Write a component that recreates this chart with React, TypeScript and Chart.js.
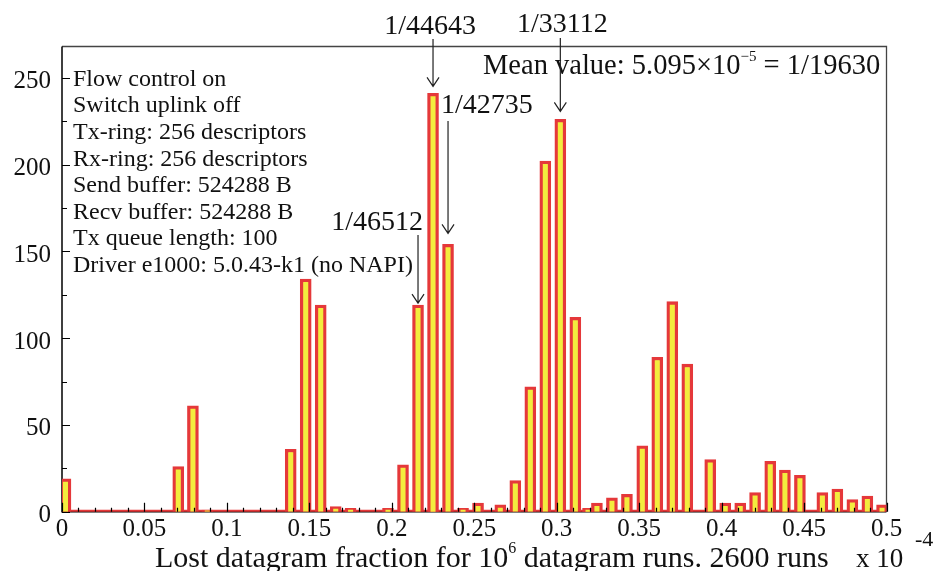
import React, { useEffect, useRef } from 'react';
import { Chart, registerables } from 'chart.js';

Chart.register(...registerables);

// Histogram bar positions (x, in units of 10^-4) and counts
const binCenters = [
  0.0021, 0.0705, 0.0794, 0.0881, 0.1387, 0.1478, 0.1569, 0.166, 0.175, 0.1977,
  0.2068, 0.2159, 0.225, 0.2341, 0.2432, 0.2523, 0.2658, 0.2749, 0.284, 0.2931,
  0.3022, 0.3113, 0.319, 0.3244, 0.3335, 0.3426, 0.3519, 0.361, 0.3701, 0.3792,
  0.3931, 0.4022, 0.4113, 0.4203, 0.4295, 0.4384, 0.4475, 0.4611, 0.4702, 0.4793,
  0.4884, 0.4973,
];
const counts = [
  19, 26, 61, 1, 36, 134, 119, 3, 2, 2,
  27, 119, 241, 154, 2, 5, 4, 18, 72, 202,
  226, 112, 2, 5, 8, 10, 38, 89, 121, 85,
  30, 5, 5, 11, 29, 24, 21, 11, 13, 7,
  9, 4,
];

const xTickValues = [0, 0.05, 0.1, 0.15, 0.2, 0.25, 0.3, 0.35, 0.4, 0.45, 0.5];
const xTickLabels = ['0', '0.05', '0.1', '0.15', '0.2', '0.25', '0.3', '0.35', '0.4', '0.45', '0.5'];
const yTickValues = [0, 50, 100, 150, 200, 250];
const yTickLabels = ['0', '50', '100', '150', '200', '250'];

const infoLines = [
  'Flow control on',
  'Switch uplink off',
  'Tx-ring: 256 descriptors',
  'Rx-ring: 256 descriptors',
  'Send buffer: 524288 B',
  'Recv buffer: 524288 B',
  'Tx queue length: 100',
  'Driver e1000: 5.0.43-k1 (no NAPI)',
];

const arrowLabels = ['1/44643', '1/42735', '1/46512', '1/33112'];
const arrowTargets = [0.225, 0.2341, 0.2159, 0.3022];

const FONT = '"Liberation Serif", "Times New Roman", serif';
const RED = '#e5383a';
const YELLOW = '#f3ec3e';

type Part = { t: string; size: number; dy: number };

function drawRich(ctx: CanvasRenderingContext2D, parts: Part[], x: number, y: number) {
  let cx = x;
  for (const p of parts) {
    ctx.font = `${p.size}px ${FONT}`;
    ctx.fillText(p.t, cx, y + p.dy);
    cx += ctx.measureText(p.t).width;
  }
}

const decorPlugin = {
  id: 'decor',
  beforeDatasetsDraw(chart: any) {
    const { ctx, chartArea: a } = chart;
    ctx.save();
    ctx.strokeStyle = '#444';
    ctx.lineWidth = 1.3;
    ctx.beginPath();
    ctx.moveTo(a.left, a.top);
    ctx.lineTo(a.right, a.top);
    ctx.lineTo(a.right, a.bottom);
    ctx.stroke();
    ctx.strokeStyle = '#000';
    ctx.lineWidth = 1.5;
    ctx.beginPath();
    ctx.moveTo(a.left, a.top);
    ctx.lineTo(a.left, a.bottom);
    ctx.lineTo(a.right, a.bottom);
    ctx.stroke();
    ctx.restore();
  },
  afterDatasetsDraw(chart: any) {
    const { ctx, chartArea: a, scales } = chart;
    const xs = scales.x;
    const ys = scales.y;
    ctx.save();
    ctx.strokeStyle = '#000';
    ctx.lineWidth = 1.2;
    ctx.beginPath();
    for (let k = 0; k <= 50; k++) {
      const px = Math.round(xs.getPixelForValue(k / 100)) + 0.5;
      const len = k % 5 === 0 ? 9 : 4;
      ctx.moveTo(px, a.bottom);
      ctx.lineTo(px, a.bottom - len);
    }
    for (let k = 0; k <= 10; k++) {
      const py = Math.round(ys.getPixelForValue(k * 25)) + 0.5;
      const len = k % 2 === 0 ? 8 : 5;
      ctx.moveTo(a.left, py);
      ctx.lineTo(a.left + len, py);
    }
    ctx.stroke();
    ctx.restore();
  },
  afterDraw(chart: any) {
    const { ctx, scales } = chart;
    const xs = scales.x;
    const ys = scales.y;
    ctx.save();
    ctx.fillStyle = '#111';
    ctx.textBaseline = 'alphabetic';

    ctx.font = `24px ${FONT}`;
    ctx.textAlign = 'left';
    infoLines.forEach((l, i) => ctx.fillText(l, 73, 85.7 + 26.6 * i));

    drawRich(ctx, [
      { t: 'Mean value: 5.095\u00d710', size: 28.5, dy: 0 },
      { t: '\u22125', size: 15, dy: -13 },
      { t: ' = 1/19630', size: 28.5, dy: 0 },
    ], 483, 74);

    const placement = [
      { align: 'center', dx: -3, base: 34, start: 39, gap: 7 },
      { align: 'left', dx: -7, base: 113, start: 121, gap: 11 },
      { align: 'right', dx: 5, base: 230, start: 235, gap: 2 },
      { align: 'center', dx: 2, base: 32, start: 38, gap: 8 },
    ];
    arrowLabels.forEach((lab, i) => {
      const xv = arrowTargets[i];
      const idx = binCenters.indexOf(xv);
      const px = xs.getPixelForValue(xv);
      const top = ys.getPixelForValue(counts[idx]);
      const p = placement[i];
      ctx.font = `28px ${FONT}`;
      ctx.textAlign = p.align as CanvasTextAlign;
      ctx.fillStyle = '#111';
      ctx.fillText(lab, px + p.dx, p.base);
      const tip = top - p.gap;
      ctx.strokeStyle = '#222';
      ctx.lineWidth = 1.2;
      ctx.beginPath();
      ctx.moveTo(px, p.start);
      ctx.lineTo(px, tip);
      ctx.moveTo(px - 6, tip - 9);
      ctx.lineTo(px, tip);
      ctx.lineTo(px + 6, tip - 9);
      ctx.stroke();
    });

    ctx.textAlign = 'left';
    ctx.fillStyle = '#111';
    drawRich(ctx, [
      { t: 'Lost datagram fraction for 10', size: 30, dy: 0 },
      { t: '6', size: 16, dy: -14 },
      { t: ' datagram runs. 2600 runs', size: 30, dy: 0 },
    ], 155, 567);

    ctx.font = `27px ${FONT}`;
    ctx.fillText('x 10', 856, 567);
    ctx.font = `22px ${FONT}`;
    ctx.fillText('-4', 915, 546);

    ctx.restore();
  },
};

export default function App() {
  const ref = useRef<HTMLCanvasElement>(null);

  useEffect(() => {
    document.body.style.margin = '0';
    const canvas = ref.current!;
    const barData = binCenters.map((x, i) => ({ x, y: counts[i] }));
    const chart = new Chart(canvas, {
      type: 'bar',
      data: {
        datasets: [
          {
            type: 'bar',
            data: barData as any,
            backgroundColor: YELLOW,
            borderColor: RED,
            borderWidth: 3.3,
            borderSkipped: 'start',
            barThickness: 11,
            grouped: false,
            order: 1,
          } as any,
          {
            type: 'line',
            data: [{ x: 0, y: 0 }, { x: 0.5, y: 0 }] as any,
            borderColor: RED,
            borderWidth: 4,
            pointRadius: 0,
            order: 2,
          } as any,
        ],
      },
      options: {
        animation: false,
        responsive: false,
        devicePixelRatio: 1,
        layout: { padding: { left: 0, right: 47.5, top: 46.5, bottom: 0 } },
        plugins: { legend: { display: false }, tooltip: { enabled: false } },
        scales: {
          x: {
            type: 'linear',
            min: 0,
            max: 0.5,
            offset: false,
            grid: { display: false, drawTicks: false, offset: false },
            border: { display: false },
            ticks: {
              stepSize: 0.05,
              includeBounds: false,
              autoSkip: false,
              maxRotation: 0,
              padding: 3,
              color: '#111',
              font: { family: FONT, size: 25 },
              callback: (v: any) => {
                const i = xTickValues.findIndex((t) => Math.abs(t - Number(v)) < 1e-6);
                return i >= 0 ? xTickLabels[i] : '';
              },
            },
            afterFit: (s: any) => { s.height = 59.3; },
          },
          y: {
            type: 'linear',
            min: 0,
            max: 268,
            grid: { display: false, drawTicks: false },
            border: { display: false },
            ticks: {
              stepSize: 50,
              includeBounds: false,
              padding: 11,
              labelOffset: 4,
              color: '#111',
              font: { family: FONT, size: 25 },
              callback: (v: any) => {
                const i = yTickValues.indexOf(Number(v));
                return i >= 0 ? yTickLabels[i] : '';
              },
            },
            afterFit: (s: any) => { s.width = 62; },
          },
        },
      } as any,
      plugins: [decorPlugin],
    });
    return () => chart.destroy();
  }, []);

  return (
    <div style={{ width: 934, height: 571, background: '#fff' }}>
      <canvas ref={ref} width={934} height={571} style={{ display: 'block' }} />
    </div>
  );
}
